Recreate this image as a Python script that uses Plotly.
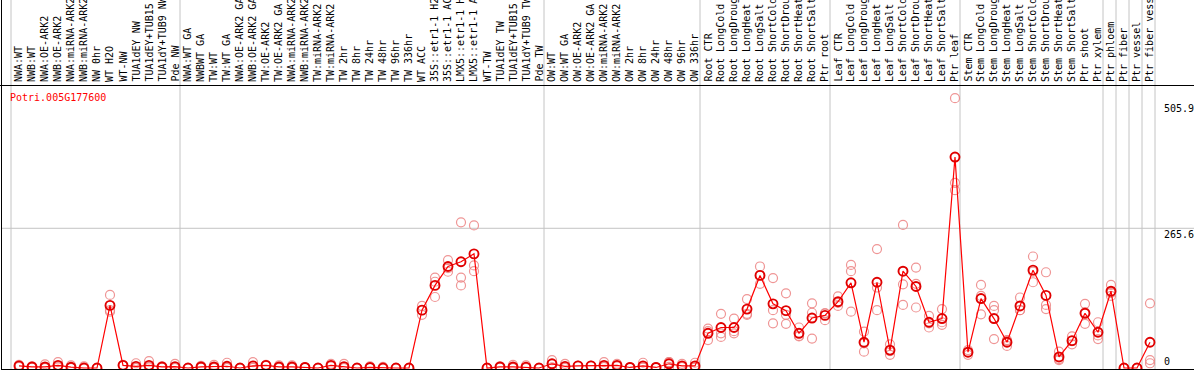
import plotly.graph_objects as go

categories = [
    "NWA:WT", "NWB:WT", "NWA:OE-ARK2", "NWB:OE-ARK2", "NWA:miRNA-ARK2", "NWB:miRNA-ARK2",
    "NW 0hr", "WT H2O", "WT-NW", "TUA1dEY NW", "TUA1dEY+TUB15 NW", "TUA1dY+TUB9 NW", "Pde NW",
    "NWA:WT GA", "NWBWT GA", "TW:WT", "TW:WT GA", "NWA:OE-ARK2 GA", "NWB:OE-ARK2 GA",
    "TW:OE-ARK2", "TW:OE-ARK2 GA", "NWA:miRNA-ARK2 GA", "NWB:miRNA-ARK2 GA", "TW:miRNA-ARK2",
    "TW:miRNA-ARK2", "TW 2hr", "TW 8hr", "TW 24hr", "TW 48hr", "TW 96hr", "TW 336hr", "WT ACC",
    "35S::etr1-1 H2O", "35S::etr1-1 ACC", "LMX5::etr1-1 H2O", "LMX5::etr1-1 ACC", "WT-TW",
    "TUA1dEY TW", "TUA1dEY+TUB15 TW", "TUA1dY+TUB9 TW", "Pde TW",
    "OW:WT", "OW:WT GA", "OW:OE-ARK2", "OW:OE-ARK2 GA", "OW:miRNA-ARK2", "OW:miRNA-ARK2",
    "OW 2hr", "OW 8hr", "OW 24hr", "OW 48hr", "OW 96hr", "OW 336hr",
    "Root CTR", "Root LongCold", "Root LongDrought", "Root LongHeat", "Root LongSalt",
    "Root ShortCold", "Root ShortDrought", "Root ShortHeat", "Root ShortSalt", "Ptr root",
    "Leaf CTR", "Leaf LongCold", "Leaf LongDrought", "Leaf LongHeat", "Leaf LongSalt",
    "Leaf ShortCold", "Leaf ShortDrought", "Leaf ShortHeat", "Leaf ShortSalt", "Ptr leaf",
    "Stem CTR", "Stem LongCold", "Stem LongDrought", "Stem LongHeat", "Stem LongSalt",
    "Stem ShortCold", "Stem ShortDrought", "Stem ShortHeat", "Stem ShortSalt", "Ptr shoot",
    "Ptr xylem", "Ptr phloem", "Ptr fiber", "Ptr vessel", "Ptr fiber vessel",
]

mean_vals = [
    4, 2, 2, 5, 1.5, 0, 0, 119, 5, 3, 5, 2, 2.7,
    0, 2, 2, 3.3, 0, 4, 5, 2, 2, 1, 0, 5, 2.7, 0, 1, 0, 0, 0, 110,
    157, 193, 202, 217, 0, 2, 2, 1.7, 0,
    8, 3, 4, 4, 5, 5, 1, 4, 1, 8, 4, 4,
    66, 77, 77, 112, 176, 122, 109, 66, 95, 100,
    126, 162, 49, 163, 34, 184, 155, 87, 94, 401,
    30, 132, 94, 49, 118, 186, 138, 21, 52, 104,
    68, 146, 0, 0, 49,
]

rep1 = [
    4, 2, 7, 11, 5, 3, 0, 139, 5, 9, 13, 2, 8,
    0, 4, 6, 10, 0, 11, 5, 5, 5, 1, 0, 8, 8, 0, 3, 2, 0, 0, 118,
    172, 205, 277, 271, 0, 3, 6, 5, 0,
    15, 8, 4, 4, 11, 8, 1, 10, 1, 11, 8, 10,
    75, 103, 94, 131, 193, 171, 142, 77, 123, 104,
    136, 196, 69, 226, 45, 272, 191, 99, 112, 513,
    34, 158, 118, 53, 134, 212, 182, 31, 60, 122,
    87, 158, 0, 0, 123,
]
rep2 = [
    2, 1, 0, 3, 0, 0, 0, 110, 4, 0, 2, 1, 0,
    0, 1, 0, 0, 0, 1, 4, 1, 1, 1, 0, 4, 0, 0, 0, 0, 0, 0, 110,
    164, 190, 172, 195, 0, 2, 0, 0, 0,
    8, 1, 4, 4, 2, 4, 1, 1, 1, 11, 2, 1,
    70, 66, 70, 103, 176, 110, 101, 61, 105, 104,
    124, 184, 47, 153, 32, 159, 160, 85, 87, 352,
    30, 137, 110, 52, 110, 183, 120, 17, 51, 106,
    62, 143, 0, 0, 15,
]
rep3 = [
    6, 3, 0, 1, 0, 0, 0, 107, 6, 0, 1, 3, 0,
    0, 1, 0, 0, 0, 0, 6, 0, 0, 1, 0, 3, 0, 0, 0, 0, 0, 0, 101,
    135, 183, 157, 184, 0, 1, 0, 0, 0,
    1, 0, 4, 4, 2, 3, 1, 1, 1, 2, 2, 1,
    53, 59, 66, 101, 160, 85, 84, 60, 56, 91,
    118, 107, 31, 110, 25, 120, 115, 77, 82, 338,
    25, 102, 55, 42, 110, 163, 112, 15, 45, 84,
    55, 137, 0, 0, 9,
]

title_text = "Potri.005G177600"
ytick_vals = [505.9, 265.6, 0]
ytick_text = ["505.9", "265.6", "0"]
separator_after = [-1, 12, 40, 52, 62, 72, 83, 84, 85, 86, 87]

W, H = 1194, 370
ML, MR, MT, MB = 2, 0, 86, 1
PW, PH = W - ML - MR, H - MT - MB
X0PX, XSTEP = 19, 13          # pixel of first category, category spacing
Y0PX, YK = 368, 0.526         # pixel of zero, px per unit
xr = [(ML - X0PX) / XSTEP, (W - MR - X0PX) / XSTEP]
yr = [(Y0PX - (H - MB)) / YK, (Y0PX - MT) / YK]


def xpaper_from_data(v):
    return (v - xr[0]) / (xr[1] - xr[0])


def xp(px):
    return (px - ML) / PW


def yp(py):
    return (H - MB - py) / PH


FONT = "DejaVu Sans Mono"
GRAY = "#c4c4c4"
idx = list(range(len(categories)))

fig = go.Figure()
rx, ry = [], []
for reps in (rep1, rep2, rep3):
    rx += idx
    ry += reps
fig.add_trace(go.Scatter(
    x=rx, y=ry, mode="markers", hoverinfo="skip",
    marker=dict(symbol="circle-open", size=9, color="rgba(236,130,130,0.85)",
                line=dict(width=1.2)),
    cliponaxis=False, showlegend=False))
fig.add_trace(go.Scatter(
    x=idx, y=mean_vals, mode="lines+markers",
    line=dict(color="#ff0000", width=1.2),
    marker=dict(symbol="circle-open", size=9, color="#e00000", line=dict(width=1.9)),
    cliponaxis=False, showlegend=False))

shapes = []
# group separators
for s in separator_after:
    xpp = xpaper_from_data(s + 5 / XSTEP)
    shapes.append(dict(type="line", xref="paper", yref="paper", x0=xpp, x1=xpp,
                       y0=yp(H), y1=yp(0), line=dict(color=GRAY, width=1), layer="below"))
# horizontal grid line
shapes.append(dict(type="line", xref="paper", yref="y", x0=xp(1), x1=xp(W),
                   y0=ytick_vals[1], y1=ytick_vals[1], line=dict(color=GRAY, width=1),
                   layer="below"))
# black frame lines
shapes.append(dict(type="line", xref="paper", yref="paper", x0=xp(1.5), x1=xp(1.5),
                   y0=yp(H), y1=yp(0), line=dict(color="black", width=1)))
shapes.append(dict(type="line", xref="paper", yref="paper", x0=xp(0), x1=xp(W),
                   y0=yp(85.5), y1=yp(85.5), line=dict(color="black", width=1)))

annotations = []
for i, c in enumerate(categories):
    annotations.append(dict(
        x=i, xref="x", y=yp(83), yref="paper", text=c, showarrow=False,
        textangle=-90, xanchor="center", yanchor="bottom", borderpad=0,
        font=dict(family=FONT, size=10, color="black")))
annotations.append(dict(
    x=xp(9), xref="paper", y=yp(97), yref="paper", text=title_text, showarrow=False,
    xanchor="left", yanchor="middle", borderpad=0,
    font=dict(family=FONT, size=10, color="#ff0000")))
for v, t in zip(ytick_vals, ytick_text):
    annotations.append(dict(
        x=xp(1163), xref="paper", y=v, yref="y", text=t, showarrow=False,
        xanchor="left", yanchor="bottom" if v == 0 else "top", borderpad=0,
        font=dict(family=FONT, size=10, color="black")))

fig.update_layout(
    width=W, height=H, margin=dict(l=ML, r=MR, t=MT, b=MB, pad=0),
    paper_bgcolor="white", plot_bgcolor="white",
    xaxis=dict(range=xr, showgrid=False, zeroline=False, showticklabels=False,
               ticks="", showline=True, linecolor="black", linewidth=1, fixedrange=True),
    yaxis=dict(range=yr, showgrid=False, zeroline=False, showticklabels=False,
               ticks="", showline=False, fixedrange=True),
    shapes=shapes, annotations=annotations, showlegend=False,
)

fig.write_html(
    "out.html",
    config={"displayModeBar": False},
    post_script="document.body.style.margin='0';document.body.style.overflow='hidden';",
)
